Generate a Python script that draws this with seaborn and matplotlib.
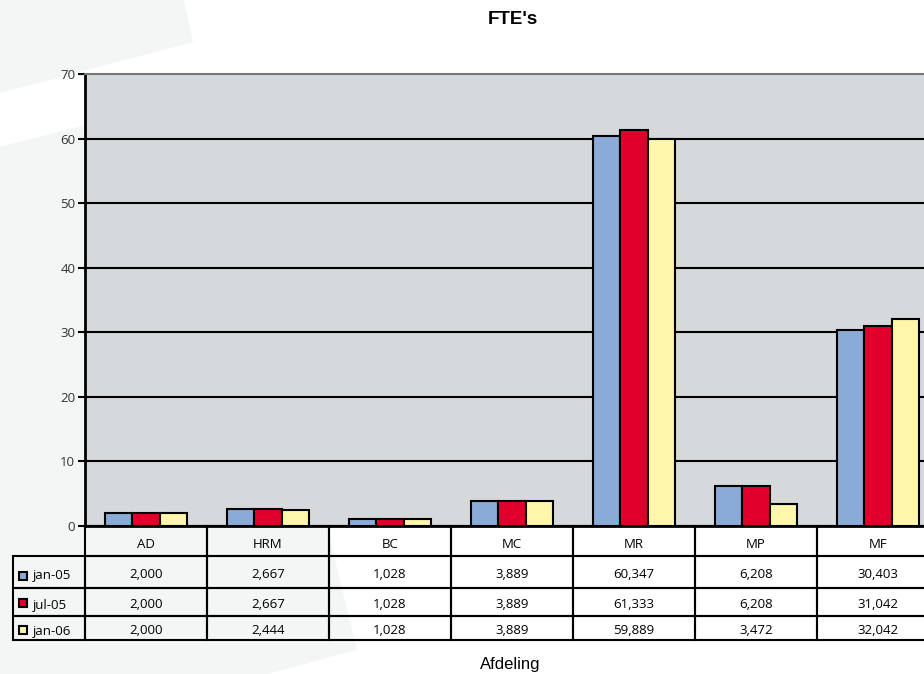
import numpy as np
import pandas as pd
import matplotlib.pyplot as plt
import matplotlib.transforms as mtransforms
from matplotlib.patches import Polygon, Rectangle
import seaborn as sns

# data
afdelingen = ["AD", "HRM", "BC", "MC", "MR", "MP", "MF"]
perioden = ["jan-05", "jul-05", "jan-06"]
jan05 = [2.000, 2.667, 1.028, 3.889, 60.347, 6.208, 30.403]
jul05 = [2.000, 2.667, 1.028, 3.889, 61.333, 6.208, 31.042]
jan06 = [2.000, 2.444, 1.028, 3.889, 59.889, 3.472, 32.042]
kleuren = ["#8aaad8", "#e0002b", "#fff6ab"]

W, H = 924, 674
def fx(px):
    return px / W
def fy(py):
    return 1 - py / H

plt.rcParams["font.family"] = ["Open Sans", "DejaVu Sans"]

fig = plt.figure(figsize=(W / 100, H / 100), dpi=100)

# light background watermark shapes
vormen = [
    [(0, -5), (183, -5), (193, 42), (0, 93)],
    [(0, 147), (220, 90), (357, 650), (267, 674), (0, 680)],
]
for pts in vormen:
    fig.add_artist(Polygon([(fx(x), fy(y)) for x, y in pts], closed=True,
                           transform=fig.transFigure, facecolor="#f4f5f5",
                           edgecolor="none", zorder=-1))

ax_w, ax_h = 939 - 85, 526 - 74
ax = fig.add_axes([fx(85), fy(526), ax_w / W, ax_h / H])

df = pd.DataFrame({
    "Afdeling": afdelingen * 3,
    "Periode": np.repeat(perioden, len(afdelingen)),
    "FTE": jan05 + jul05 + jan06,
})

sns.barplot(data=df, x="Afdeling", y="FTE", hue="Periode", hue_order=perioden,
            palette=kleuren, saturation=1, width=0.67, edgecolor="black",
            linewidth=1.5, legend=False, ax=ax, zorder=3)

ax.set_facecolor("#d6d9dc")
ax.set_xlim(-0.5, 6.5)
ax.set_ylim(0, 70)
ax.set_yticks(range(0, 80, 10))
ax.set_xticks([])
ax.set_xlabel("")
ax.set_ylabel("")
ax.set_axisbelow(True)
ax.yaxis.grid(True, color="black", lw=1.5)
ax.yaxis.get_gridlines()[-1].set_visible(False)
ax.tick_params(axis="y", length=5, width=1.5, labelsize=9.5, labelcolor="#333333", pad=2)
for kant in ["left", "bottom"]:
    ax.spines[kant].set_color("black")
    ax.spines[kant].set_linewidth(2)
ax.spines["top"].set_color("#777777")
ax.spines["top"].set_linewidth(1.5)
ax.spines["right"].set_visible(False)

# data table, sizes given in axes units
cel_tekst = [[f"{v:.3f}".replace(".", ",") for v in reeks] for reeks in (jan05, jul05, jan06)]
tab = ax.table(cellText=cel_tekst, rowLabels=perioden, colLabels=afdelingen,
               cellLoc="center", rowLoc="left",
               bbox=[0, -(640 - 526) / ax_h, 1, (640 - 526) / ax_h])
tab._autoColumns.clear()  # keep the fixed row-label column width
tab.auto_set_font_size(False)
tab.set_fontsize(9.5)
hoogtes = [30, 32, 28, 24]
omlaag = mtransforms.Affine2D().translate(0, -3)  # text sits a bit low in its cell
for (r, c), cel in tab.get_celld().items():
    cel.set_facecolor("none")
    cel.set_edgecolor("black")
    cel.set_linewidth(1.5)
    cel.set_width((72 if c == -1 else 122) / ax_w)
    cel.set_height(hoogtes[r] / ax_h)
    cel.get_text().set_transform(omlaag)
    if c == -1:
        cel.PAD = 0.28

# legend swatches in the row labels
for kleur, yc in zip(kleuren, [575.5, 602.5, 630]):
    fig.add_artist(Rectangle((fx(19), fy(yc + 4)), 8 / W, 8 / H,
                             transform=fig.transFigure, facecolor=kleur,
                             edgecolor="black", linewidth=1.5))

fig.text(fx(513), fy(20), "FTE's", ha="center", va="center", fontsize=13.5,
         fontweight="bold", family="Liberation Sans")
fig.text(fx(510), fy(664), "Afdeling", ha="center", va="center", fontsize=12,
         family="Liberation Sans")

plt.savefig("out.png", dpi=100)
